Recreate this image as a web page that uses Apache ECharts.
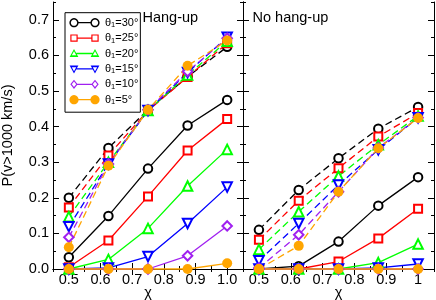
<!DOCTYPE html>
<html><head><meta charset="utf-8">
<script src="https://cdn.jsdelivr.net/npm/echarts@6/dist/echarts.min.js"></script>
<style>html,body{margin:0;padding:0;background:#fff}#c{width:436px;height:300px}</style>
</head><body><div id="c"></div>
<script>
// ---- data ----
const chi = [0.5, 0.625, 0.75, 0.875, 1.0];
const thetaLabels = ['30', '25', '20', '15', '10', '5'];
const xTicksLeft = ['0.5', '0.6', '0.7', '0.8', '0.9', '1.0'];
const xTicksRight = ['0.5', '0.6', '0.7', '0.8', '0.9', '1'];
const yTicks = ['0.0', '0.1', '0.2', '0.3', '0.4', '0.5', '0.6', '0.7'];
// rows follow thetaLabels order (30,25,20,15,10,5 deg)
const hangSolid = [
  [0.033, 0.149, 0.282, 0.403, 0.475],
  [0.005, 0.080, 0.204, 0.333, 0.421],
  [0.000, 0.027, 0.114, 0.233, 0.336],
  [0.000, 0.003, 0.035, 0.128, 0.230],
  [0.000, 0.000, 0.000, 0.037, 0.121],
  [0.000, 0.000, 0.000, 0.000, 0.016]
];
const hangDashed = [
  [0.200, 0.340, 0.447, 0.540, 0.624],
  [0.173, 0.319, 0.445, 0.539, 0.634],
  [0.147, 0.300, 0.445, 0.545, 0.640],
  [0.119, 0.295, 0.445, 0.552, 0.651],
  [0.089, 0.295, 0.447, 0.555, 0.648],
  [0.061, 0.290, 0.447, 0.571, 0.642]
];
const noHangSolid = [
  [0.000, 0.008, 0.077, 0.178, 0.258],
  [0.000, 0.000, 0.021, 0.086, 0.169],
  [0.000, 0.000, 0.000, 0.018, 0.070],
  [0.000, 0.000, 0.000, 0.003, 0.014],
  [0.000, 0.000, 0.000, 0.000, 0.000],
  [0.000, 0.000, 0.000, 0.000, 0.000]
];
const noHangDashed = [
  [0.110, 0.222, 0.311, 0.394, 0.455],
  [0.082, 0.192, 0.283, 0.372, 0.438],
  [0.055, 0.161, 0.261, 0.349, 0.430],
  [0.023, 0.128, 0.236, 0.335, 0.425],
  [0.003, 0.096, 0.217, 0.340, 0.425],
  [0.000, 0.065, 0.217, 0.339, 0.424]
];

// ---- styling ----
const FONT = 'Liberation Sans, Arial, sans-serif';
const colors = ['#000000', '#ff0000', '#00ff00', '#0000ff', '#a020f0', '#ffa500'];
const symbols = ['emptyCircle', 'emptyRect', 'emptyTriangle', 'emptyTriangle', 'emptyDiamond', 'circle'];
const symRot = [0, 0, 0, 180, 0, 0];
const symSize = [8.5, 8, 9.5, 9.5, 9.5, 10];

// legend icon paths (o—o style)
const circ = []; for (let a = 0; a < 24; a++) circ.push([Math.cos(a * Math.PI / 12), Math.sin(a * Math.PI / 12)]);
const shapes = [
  { pts: circ, inner: 0.68, edge: 0.85, hollow: true },
  { pts: [[-0.8, -0.8], [0.8, -0.8], [0.8, 0.8], [-0.8, 0.8]], inner: 0.68, edge: 0.75, hollow: true },
  { pts: [[0, -1], [0.95, 0.75], [-0.95, 0.75]], inner: 0.5, edge: 0.5, hollow: true },
  { pts: [[0, 1], [0.95, -0.75], [-0.95, -0.75]], inner: 0.5, edge: 0.5, hollow: true },
  { pts: [[0, -1], [0.8, 0], [0, 1], [-0.8, 0]], inner: 0.6, edge: 0.75, hollow: true },
  { pts: circ, inner: 0, edge: 0.85, hollow: false }
];
function area(p) { let s = 0; for (let i = 0; i < p.length; i++) { const a = p[i], b = p[(i + 1) % p.length]; s += a[0] * b[1] - b[0] * a[1]; } return s; }
function poly(p) { return 'M' + p.map(q => q[0].toFixed(2) + ',' + q[1].toFixed(2)).join('L') + 'Z'; }
function iconPath(sh) {
  const R = 4.6, cy = 5, cxs = [5, 26];
  let pts = sh.pts.slice(); if (area(pts) < 0) pts.reverse();
  let d = 'M0,0L0.02,0L0,0.02Z M31,10L30.98,10L31,9.98Z ';
  cxs.forEach(cx => {
    d += poly(pts.map(q => [cx + q[0] * R, cy + q[1] * R]));
    if (sh.hollow) d += poly(pts.slice().reverse().map(q => [cx + q[0] * R * sh.inner, cy + q[1] * R * sh.inner]));
  });
  const x1 = 5 + R * sh.edge, x2 = 26 - R * sh.edge;
  d += poly([[x1, 4.35], [x2, 4.35], [x2, 5.65], [x1, 5.65]]);
  return 'path://' + d;
}

function tickFmt(list, offset) {
  return v => { const k = Math.round(v * 100); if (k % 10 !== 0) return ''; const s = list[(k - offset) / 10]; return s === undefined ? '' : s; };
}
const lineCol = { lineStyle: { color: '#000', width: 1 } };
function xAxes(grid, labels) {
  const base = { type: 'value', gridIndex: grid, min: 0.45, max: 1.05, splitLine: { show: false } };
  return [
    Object.assign({}, base, { position: 'bottom', interval: 0.05, axisLine: lineCol,
      axisTick: { inside: true, length: 3, lineStyle: { color: '#000' } },
      axisLabel: { formatter: tickFmt(labels, 50), margin: 3, color: '#000', fontSize: 14.5, fontFamily: FONT },
      name: 'χ', nameLocation: 'middle', nameGap: 16, nameMoveOverlap: false,
      nameTextStyle: { color: '#000', fontSize: 14.5, fontFamily: FONT } }),
    Object.assign({}, base, { position: 'bottom', axisLine: { show: false },
      axisTick: { inside: true, length: 6, customValues: [0.5, 0.6, 0.7, 0.8, 0.9, 1.0], lineStyle: { color: '#000' } },
      axisLabel: { show: false } }),
    Object.assign({}, base, { position: 'top', interval: 0.05, axisLine: lineCol,
      axisTick: { inside: true, length: 3, lineStyle: { color: '#000' } }, axisLabel: { show: false } }),
    Object.assign({}, base, { position: 'top', axisLine: { show: false },
      axisTick: { inside: true, length: 6, customValues: [0.5, 0.6, 0.7, 0.8, 0.9, 1.0], lineStyle: { color: '#000' } },
      axisLabel: { show: false } })
  ];
}
function yAxes(grid, showLabels) {
  const base = { type: 'value', gridIndex: grid, min: 0, max: 0.75, splitLine: { show: false } };
  const major = [0, 0.1, 0.2, 0.3, 0.4, 0.5, 0.6, 0.7];
  return [
    Object.assign({}, base, { position: 'left', interval: 0.05, axisLine: lineCol,
      axisTick: { inside: true, length: 3, lineStyle: { color: '#000' } },
      axisLabel: showLabels ? { formatter: tickFmt(yTicks, 0), margin: 4, color: '#000', fontSize: 14.5, fontFamily: FONT } : { show: false } }),
    Object.assign({}, base, { position: 'left', axisLine: { show: false },
      axisTick: { inside: true, length: 6, customValues: major, lineStyle: { color: '#000' } }, axisLabel: { show: false } }),
    Object.assign({}, base, { position: 'right', interval: 0.05, axisLine: lineCol,
      axisTick: { inside: true, length: 3, lineStyle: { color: '#000' } }, axisLabel: { show: false } }),
    Object.assign({}, base, { position: 'right', axisLine: { show: false },
      axisTick: { inside: true, length: 6, customValues: major, lineStyle: { color: '#000' } }, axisLabel: { show: false } })
  ];
}

const series = [];
function addPanel(axisIdx, solid, dashed) {
  thetaLabels.forEach((t, i) => {
    [[solid, 'solid'], [dashed, [7, 4]]].forEach(([arr, type]) => {
      series.push({
        type: 'line', name: t, xAxisIndex: axisIdx, yAxisIndex: axisIdx,
        data: chi.map((x, j) => [x, arr[i][j]]),
        symbol: symbols[i], symbolRotate: symRot[i], symbolSize: symSize[i],
        lineStyle: { color: colors[i], width: 1.3, type: type },
        itemStyle: { color: colors[i], borderWidth: i === 5 ? 0 : 1.3 },
        clip: false, z: 3
      });
    });
  });
}
addPanel(0, hangSolid, hangDashed);
addPanel(4, noHangSolid, noHangDashed);

const option = {
  animation: false,
  backgroundColor: '#fff',
  grid: [
    { left: 53, top: 2, width: 190, height: 267, outerBoundsMode: 'none', containLabel: false },
    { left: 243, top: 2, width: 191, height: 267, outerBoundsMode: 'none', containLabel: false }
  ],
  xAxis: [...xAxes(0, xTicksLeft), ...xAxes(1, xTicksRight)],
  yAxis: [...yAxes(0, true), ...yAxes(1, false)],
  legend: {
    orient: 'vertical', left: 65, top: 12.7, padding: [3.5, 2, 6, 4], itemGap: 2.4,
    itemWidth: 31, itemHeight: 10, borderColor: '#000', borderWidth: 1, borderRadius: 0,
    selectedMode: false,
    formatter: n => 'θ{s|1}=' + n + '°',
    textStyle: { fontSize: 11, lineHeight: 13, color: '#000', fontFamily: FONT,
      rich: { s: { fontSize: 7.5, lineHeight: 13, verticalAlign: 'bottom', fontFamily: FONT, color: '#000' } } },
    itemStyle: { borderWidth: 0 },
    data: thetaLabels.map((t, i) => ({ name: t, icon: iconPath(shapes[i]), itemStyle: { color: colors[i], borderWidth: 0 } }))
  },
  graphic: [
    { type: 'text', x: 142.5, y: 10.5, style: { text: 'Hang-up', font: '14.5px ' + FONT, fill: '#000' } },
    { type: 'text', x: 252.5, y: 10.5, style: { text: 'No hang-up', font: '14.5px ' + FONT, fill: '#000' } },
    { type: 'text', x: 8, y: 135.5, rotation: Math.PI / 2, style: { text: 'P(v>1000 km/s)', font: '14.5px ' + FONT, fill: '#000', align: 'center', verticalAlign: 'middle' } }
  ],
  series: series
};
const chart = echarts.init(document.getElementById('c'), null, { renderer: 'canvas' });
chart.setOption(option);
</script></body></html>
